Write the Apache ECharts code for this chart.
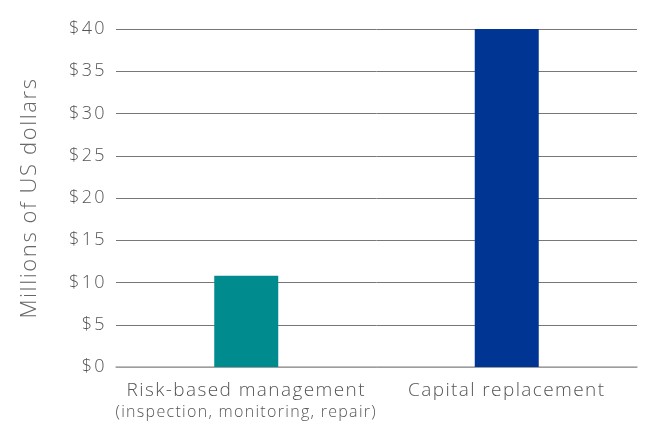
<!DOCTYPE html>
<html><head><meta charset="utf-8">
<script src="https://cdn.jsdelivr.net/npm/echarts@6/dist/echarts.min.js"></script>
<style>html,body{margin:0;padding:0;background:#fff}#c{width:646px;height:424px}</style>
</head><body><div id="c"></div>
<script>
const categories = ['Risk-based management', 'Capital replacement'];
const subLabels = ['(inspection, monitoring, repair)', ''];
const values = [10.8, 40];
const colors = ['#008B8F', '#003594'];
const yTicks = [0, 5, 10, 15, 20, 25, 30, 35, 40];

// letter spacing per font size (the reference typeface is set with tracking)
const SPACING = { 18: 2.4, 19: 1.4, 16: 1.3, 22: 1.6 };
(function () {
  const P = CanvasRenderingContext2D.prototype;
  const d = Object.getOwnPropertyDescriptor(P, 'font');
  if (!d || !('letterSpacing' in P)) return;
  Object.defineProperty(P, 'font', {
    configurable: true,
    get: function () { return d.get.call(this); },
    set: function (v) {
      d.set.call(this, v);
      const m = /(\d+(?:\.\d+)?)px/.exec(v);
      const s = m ? SPACING[Math.round(parseFloat(m[1]))] : 0;
      this.letterSpacing = (s || 0) + 'px';
    }
  });
})();

const FONT = "'Open Sans'";
const chart = echarts.init(document.getElementById('c'));
chart.setOption({
  animation: false,
  grid: { left: 116, right: 9, top: 29, bottom: 57, containLabel: false },
  xAxis: {
    type: 'category',
    data: categories,
    axisLine: { show: true, lineStyle: { color: '#aaa', width: 1.5 } },
    axisTick: { show: false },
    axisLabel: {
      margin: 12,
      interval: 0,
      formatter: function (v, i) {
        return subLabels[i] ? '{a|' + v + '}\n{b|' + subLabels[i] + '}' : '{a|' + v + '}';
      },
      rich: {
        a: { fontFamily: FONT, fontSize: 19, fontWeight: 300, color: '#555', lineHeight: 24 },
        b: { fontFamily: FONT, fontSize: 16, fontWeight: 300, color: '#555', lineHeight: 19 }
      }
    }
  },
  yAxis: {
    type: 'value',
    min: 0, max: 40, interval: 5,
    name: 'Millions of US dollars',
    nameLocation: 'middle',
    nameGap: 74,
    nameTextStyle: { fontFamily: FONT, fontSize: 22, fontWeight: 300, color: '#666' },
    axisLine: { show: false },
    axisTick: { show: false },
    axisLabel: {
      margin: 9,
      fontFamily: FONT, fontSize: 18, fontWeight: 300, color: '#555',
      formatter: function (v) { return yTicks.includes(v) ? '$' + v : ''; }
    },
    splitLine: { lineStyle: { color: '#777', width: 1 } }
  },
  series: [{
    type: 'bar',
    barWidth: 64,
    data: values.map((v, i) => ({ value: v, itemStyle: { color: colors[i] } }))
  }]
});
</script></body></html>
